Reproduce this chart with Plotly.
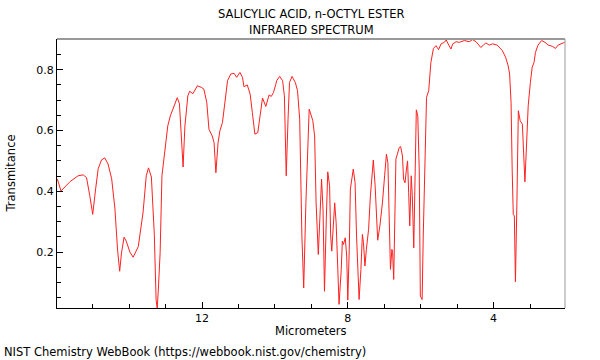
import plotly.graph_objects as go

wavelength_um = [
    15.97, 15.87, 15.62, 15.40, 15.26, 15.17, 15.08, 15.00, 14.92, 14.85,
    14.76, 14.67, 14.58, 14.48, 14.39, 14.32, 14.26, 14.21, 14.14, 14.08,
    13.98, 13.89, 13.75, 13.62, 13.53, 13.47, 13.39, 13.31, 13.26, 13.23,
    13.20, 13.15, 13.10, 13.03, 12.94, 12.87, 12.78, 12.68, 12.62, 12.56,
    12.52, 12.47, 12.39, 12.34, 12.25, 12.13, 12.02, 11.95, 11.87, 11.81,
    11.72, 11.67, 11.62, 11.56, 11.51, 11.44, 11.38, 11.30, 11.21, 11.12,
    11.05, 10.96, 10.89, 10.85, 10.76, 10.68, 10.62, 10.55, 10.47, 10.39,
    10.34, 10.25, 10.16, 10.10, 10.04, 9.98, 9.95, 9.87, 9.79, 9.74,
    9.69, 9.64, 9.60, 9.53, 9.44, 9.38, 9.32, 9.26, 9.21, 9.15,
    9.10, 9.06, 9.00, 8.96, 8.91, 8.87, 8.81, 8.76, 8.72, 8.68,
    8.64, 8.59, 8.55, 8.50, 8.47, 8.44, 8.39, 8.36, 8.32, 8.28,
    8.24, 8.18, 8.15, 8.12, 8.07, 8.03, 8.00, 7.96, 7.93, 7.85,
    7.80, 7.76, 7.69, 7.64, 7.60, 7.57, 7.53, 7.49, 7.43, 7.38,
    7.32, 7.30, 7.25, 7.21, 7.18, 7.12, 7.05, 6.99, 6.94, 6.90,
    6.87, 6.83, 6.79, 6.77, 6.74, 6.71, 6.68, 6.64, 6.59, 6.55,
    6.50, 6.47, 6.43, 6.39, 6.36, 6.33, 6.30, 6.26, 6.23, 6.19,
    6.15, 6.12, 6.08, 6.04, 6.01, 5.96, 5.93, 5.87, 5.84, 5.78,
    5.72, 5.65, 5.58, 5.51, 5.44, 5.35, 5.30, 5.23, 5.17, 5.12,
    5.03, 4.94, 4.80, 4.67, 4.58, 4.48, 4.41, 4.35, 4.27, 4.21,
    4.12, 4.03, 3.90, 3.76, 3.67, 3.60, 3.56, 3.52, 3.49, 3.46,
    3.43, 3.40, 3.36, 3.32, 3.27, 3.21, 3.18, 3.14, 3.10, 3.05,
    2.99, 2.94, 2.89, 2.85, 2.78, 2.68, 2.59, 2.50, 2.39, 2.30,
    2.23, 2.16, 2.09, 2.05,
]

transmittance = [
    0.440, 0.401, 0.432, 0.451, 0.454, 0.445, 0.385, 0.324, 0.408, 0.474,
    0.503, 0.510, 0.490, 0.441, 0.342, 0.210, 0.137, 0.197, 0.249, 0.236,
    0.200, 0.183, 0.218, 0.329, 0.451, 0.477, 0.447, 0.259, 0.042, 0.015,
    0.075, 0.198, 0.451, 0.526, 0.615, 0.648, 0.675, 0.708, 0.688, 0.560,
    0.480, 0.615, 0.714, 0.729, 0.721, 0.747, 0.742, 0.736, 0.692, 0.604,
    0.582, 0.560, 0.461, 0.560, 0.599, 0.626, 0.692, 0.764, 0.786, 0.788,
    0.775, 0.791, 0.775, 0.744, 0.750, 0.720, 0.659, 0.588, 0.593, 0.670,
    0.707, 0.679, 0.717, 0.712, 0.725, 0.750, 0.764, 0.778, 0.764, 0.714,
    0.451, 0.637, 0.758, 0.778, 0.758, 0.731, 0.637, 0.253, 0.082, 0.362,
    0.582, 0.670, 0.648, 0.632, 0.582, 0.362, 0.192, 0.341, 0.440, 0.341,
    0.071, 0.308, 0.464, 0.418, 0.253, 0.203, 0.308, 0.362, 0.297, 0.143,
    0.028, 0.143, 0.236, 0.225, 0.247, 0.187, 0.042, 0.209, 0.407, 0.473,
    0.428, 0.253, 0.044, 0.143, 0.258, 0.231, 0.154, 0.209, 0.275, 0.385,
    0.483, 0.503, 0.418, 0.297, 0.239, 0.286, 0.362, 0.451, 0.522, 0.494,
    0.297, 0.143, 0.209, 0.198, 0.110, 0.297, 0.506, 0.522, 0.544, 0.547,
    0.516, 0.440, 0.428, 0.473, 0.500, 0.395, 0.286, 0.451, 0.385, 0.214,
    0.473, 0.668, 0.648, 0.473, 0.055, 0.044, 0.253, 0.582, 0.709, 0.731,
    0.824, 0.870, 0.879, 0.866, 0.885, 0.890, 0.898, 0.881, 0.868, 0.885,
    0.892, 0.890, 0.896, 0.892, 0.899, 0.892, 0.881, 0.873, 0.882, 0.888,
    0.881, 0.885, 0.881, 0.863, 0.841, 0.813, 0.786, 0.692, 0.473, 0.324,
    0.319, 0.102, 0.362, 0.665, 0.632, 0.621, 0.539, 0.431, 0.539, 0.681,
    0.758, 0.808, 0.824, 0.857, 0.881, 0.896, 0.890, 0.881, 0.877, 0.870,
    0.881, 0.885, 0.888, 0.890,
]

x_ticks = [12, 8, 4]
y_ticks = [0.2, 0.4, 0.6, 0.8]
title_lines = ["SALICYLIC ACID, n-OCTYL ESTER", "INFRARED SPECTRUM"]
x_title = "Micrometers"
y_title = "Transmitance"
footer = "NIST Chemistry WebBook (https://webbook.nist.gov/chemistry)"

FONT = "DejaVu Sans"

fig = go.Figure()
fig.add_trace(go.Scatter(
    x=wavelength_um, y=transmittance, mode="lines",
    line=dict(color="#ff2020", width=1), hoverinfo="skip", showlegend=False,
))

fig.update_layout(
    width=600, height=360,
    margin=dict(l=57, r=35, t=39, b=52),
    paper_bgcolor="white", plot_bgcolor="white",
    font=dict(family=FONT, size=11, color="black"),
    xaxis=dict(
        range=[15.98, 2.04], showgrid=False, zeroline=False,
        tickmode="array", tickvals=x_ticks, ticktext=[str(v) for v in x_ticks],
        ticks="inside", ticklen=6, tickcolor="black",
        showline=True, linecolor="black", linewidth=1,
        minor=dict(tickmode="linear", dtick=1, tick0=0, ticks="inside", ticklen=4, tickcolor="black"),
        tickfont=dict(family=FONT, size=11),
    ),
    yaxis=dict(
        range=[0.016, 0.901], showgrid=False, zeroline=False,
        tickmode="array", tickvals=y_ticks, ticktext=[str(v) for v in y_ticks],
        ticks="inside", ticklen=6, tickcolor="black",
        showline=True, linecolor="black", linewidth=1,
        minor=dict(tickmode="linear", dtick=0.05, tick0=0, ticks="inside", ticklen=4, tickcolor="black"),
        tickfont=dict(family=FONT, size=11),
    ),
    shapes=[
        dict(type="line", xref="paper", yref="paper", x0=0, x1=1, y0=1, y1=1,
             line=dict(color="#999999", width=2)),
        dict(type="line", xref="paper", yref="paper", x0=1, x1=1, y0=0, y1=1,
             line=dict(color="#999999", width=1)),
    ],
    annotations=[
        dict(text=title_lines[0], xref="paper", yref="paper", x=0.5, y=1, yshift=25,
             showarrow=False, font=dict(family=FONT, size=11.5), xanchor="center", yanchor="middle"),
        dict(text=title_lines[1], xref="paper", yref="paper", x=0.5, y=1, yshift=9,
             showarrow=False, font=dict(family=FONT, size=11.5), xanchor="center", yanchor="middle"),
        dict(text=x_title, xref="paper", yref="paper", x=0.5, y=0, yshift=-23,
             showarrow=False, font=dict(family=FONT, size=11.5), xanchor="center", yanchor="middle"),
        dict(text=y_title, xref="paper", yref="paper", x=0, xshift=-47, y=0.5,
             showarrow=False, textangle=-90, font=dict(family=FONT, size=11.5),
             xanchor="center", yanchor="middle"),
        dict(text=footer, xref="paper", yref="paper", x=0, xshift=-55, y=0, yshift=-44,
             showarrow=False, font=dict(family=FONT, size=11.5), xanchor="left", yanchor="middle"),
    ],
)

# Remove the browser's default 8px body margin so the figure starts at the page corner.
fig.write_html("out.html", config={"displayModeBar": False},
               post_script="document.body.style.margin='0';")
